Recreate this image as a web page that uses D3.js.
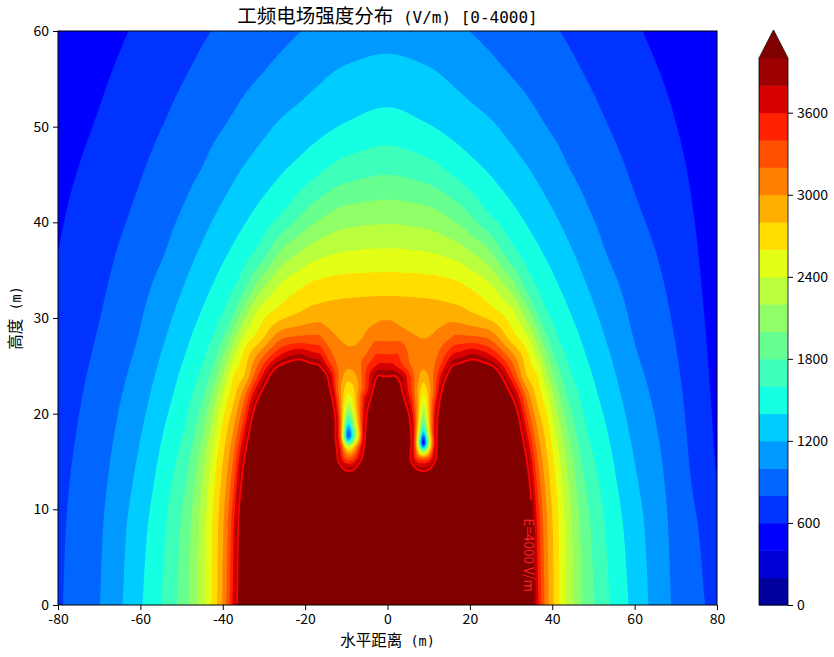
<!DOCTYPE html>
<html><head><meta charset="utf-8">
<script src="https://cdn.jsdelivr.net/npm/d3@7"></script>
<style>
html,body{margin:0;padding:0;background:#fff;}
svg{display:block;}
text{font-family:"Noto Sans CJK SC","Noto Sans",sans-serif;}
</style></head>
<body><svg id="chart" width="834" height="657"></svg>
<script>
// ---------------- DATA ----------------
const titleCJK = "工频电场强度分布";
const titleLatin = " (V/m) [0-4000]";
const xLabelCJK = "水平距离", yLabelCJK = "高度", axisUnit = " (m)";
const contourLabelText = "E=4000 V/m";

const levels = [0,200,400,600,800,1000,1200,1400,1600,1800,2000,2200,2400,2600,2800,3000,3200,3400,3600,3800,4000];
const lineLevel = 4000;
const xTicks = [-80,-60,-40,-20,0,20,40,60,80];
const yTicks = [0,10,20,30,40,50,60];
const colorbarTicks = [0,600,1200,1800,2400,3000,3600];

// field sampled on a coarse grid (V/m); x, y in metres; rows bottom -> top
const gridX = [-80,-70,-61,-54,-49,-45,-42,-39.5,-37.5,-35,-31,-25,-21.5,-18,-10,0,9,17,20.5,24,30,34,36.5,38.5,41,44,48,53,60,69,80];
const gridY = [0,8,14,19,22,24,26,28,30.5,33.5,37,41,45.5,50.5,55.5,60];
const fieldRows = [
 [774,995,1339,1649,1946,2324,2708,3120,3640,4652,5853,6898,7200,7495,7748,7722,7748,7495,7200,6898,5853,4652,3640,3120,2708,2324,1946,1649,1339,995,735],
 [761,974,1292,1591,1893,2291,2679,3058,3535,4520,5770,6855,7130,7400,7420,7320,7420,7400,7130,6855,5770,4520,3535,3058,2679,2291,1893,1591,1292,974,685],
 [741,939,1214,1500,1760,2162,2560,2903,3265,4067,5477,6705,6800,6900,6750,6670,6750,6900,6800,6705,5477,4067,3265,2903,2560,2162,1760,1500,1214,939,592],
 [717,900,1141,1397,1599,1927,2317,2680,2941,3432,4690,5707,5950,6122,5900,5680,5900,6122,5950,5707,4690,3432,2941,2680,2317,1927,1599,1397,1141,900,566],
 [701,874,1093,1331,1523,1753,2100,2472,2710,3084,3997,5134,5300,5200,5070,4760,5070,5200,5300,5134,3997,3084,2710,2472,2100,1753,1523,1331,1093,874,553],
 [689,855,1059,1286,1468,1647,1929,2272,2584,2779,3493,4537,4620,4500,4331,3971,4331,4500,4620,4537,3493,2779,2584,2272,1929,1647,1468,1286,1059,855,545],
 [676,835,1023,1240,1410,1562,1760,2061,2338,2641,3105,3720,3880,3720,3586,3440,3586,3720,3880,3720,3105,2641,2338,2061,1760,1562,1410,1240,1023,835,537],
 [663,815,991,1193,1356,1498,1621,1838,2093,2418,2713,3179,3230,3244,3173,3150,3173,3244,3230,3179,2713,2418,2093,1838,1621,1498,1356,1193,991,815,530],
 [646,792,960,1140,1289,1415,1523,1627,1788,2079,2479,2725,2810,2879,2924,2944,2924,2879,2810,2725,2479,2079,1788,1627,1523,1415,1289,1140,960,792,520],
 [625,767,922,1074,1210,1325,1414,1499,1567,1716,2080,2449,2550,2633,2692,2704,2692,2633,2550,2449,2080,1716,1567,1499,1414,1325,1210,1074,922,767,508],
 [599,737,877,998,1124,1227,1305,1370,1427,1505,1661,2050,2180,2290,2396,2424,2396,2290,2180,2050,1661,1505,1427,1370,1305,1227,1124,998,877,737,495],
 [576,701,825,938,1027,1120,1190,1248,1293,1350,1449,1620,1760,1895,2066,2108,2066,1895,1760,1620,1449,1350,1293,1248,1190,1120,1027,938,825,701,480],
 [547,660,773,872,945,1006,1068,1119,1161,1211,1285,1395,1460,1537,1695,1763,1695,1537,1460,1395,1285,1211,1161,1119,1068,1006,945,872,773,660,465],
 [511,613,719,802,867,919,958,991,1022,1064,1133,1224,1265,1307,1400,1467,1400,1307,1265,1224,1133,1064,1022,991,958,919,867,802,719,613,448],
 [470,570,666,742,796,841,874,901,923,951,995,1067,1110,1152,1232,1271,1232,1152,1110,1067,995,951,923,901,874,841,796,742,666,570,430],
 [429,529,619,689,739,779,808,830,848,870,906,959,993,1026,1090,1125,1090,1026,993,959,906,870,848,830,808,779,739,689,619,529,412]
];

// local field around the left conductor (blob at x = -9.5 m, y = 17.8 m)
const leftCondX = [-17,-15.5,-14.3,-13.2,-12.3,-11.3,-10.4,-9.5,-8.6,-7.6,-6.6,-5.6,-4.4,-2.6,-0.5];
const leftCondY = [12,13.4,14.3,15.2,16.3,17.8,19,20.3,21.6,22.8,24,25.3,26.8,28.5,30.5,32.5];
const leftCondRows = [
 [6000,6000,6000,6000,6000,6000,6000,6000,6000,6000,6000,6000,6000,6000,6000],
 [6000,6000,6000,5800,5300,4800,4500,4350,4450,4750,5200,5700,6000,6000,6000],
 [6000,6000,6000,5300,4700,4150,3900,3850,3870,4050,4500,5100,5800,6000,6000],
 [6000,6000,5200,4600,4100,3700,3450,3350,3400,3600,3900,4350,5000,6000,6000],
 [6000,5600,5000,4400,4000,3500,3000,2650,2800,3150,3600,4100,4700,5500,6000],
 [6000,5400,4800,4300,3800,3050,1800,800,1400,2300,3050,3900,4500,5300,6000],
 [5900,5300,4800,4350,3800,3100,2200,1450,1900,2600,3200,3800,4500,5200,5900],
 [5700,5100,4600,4150,3650,3050,2500,2100,2350,2800,3250,3700,4200,5000,5600],
 [5400,4800,4350,3900,3450,3000,2700,2500,2600,2900,3250,3600,3900,4600,5200],
 [5100,4550,4100,3650,3300,3000,2800,2700,2750,2900,3100,3350,3650,4250,4800],
 [4500,4200,3880,3550,3300,3100,2970,2900,2930,3000,3150,3350,3600,3950,4200],
 [4020,3700,3450,3300,3180,3100,3060,3050,3060,3100,3180,3280,3400,3550,3700],
 [3560,3350,3230,3140,3080,3040,3020,3010,3010,3020,3050,3100,3200,3350,3500],
 [3200,3100,3040,3000,2975,2955,2945,2940,2940,2945,2960,2990,3040,3100,3160],
 [2950,2920,2900,2890,2880,2875,2870,2870,2870,2875,2880,2895,2920,2950,2990],
 [6000,6000,6000,6000,6000,6000,6000,6000,6000,6000,6000,6000,6000,6000,6000]
];

// local field around the right conductor (blob at x = 8.7 m, y = 17.0 m)
const rightCondX = [0,1.8,3.4,4.6,5.6,6.5,7.4,8.0,8.7,9.4,10.2,11.1,12.0,13.1,14.4,15.8,17.3];
const rightCondY = [12,13.4,14.3,15.2,16,17,18.2,19.6,21,22.4,23.8,25.3,26.8,28.5,30.5,32.5];
const rightCondRows = [
 [6000,6000,6000,6000,6000,6000,6000,6000,6000,6000,6000,6000,6000,6000,6000,6000,6000],
 [6000,6000,6000,5700,5200,4800,4500,4400,4350,4400,4550,4900,5400,6000,6000,6000,6000],
 [6000,6000,5800,5100,4500,4100,3900,3860,3850,3870,3950,4200,4700,5300,6000,6000,6000],
 [6000,6000,5000,4400,4000,3650,3420,3360,3350,3380,3500,3750,4150,4700,5300,6000,6000],
 [6000,5600,4900,4350,4000,3500,2900,2450,2200,2450,2950,3550,4050,4600,5200,5800,6000],
 [6000,5700,5200,4700,4150,3450,2400,1400,500,1300,2400,3300,4050,4550,5100,5600,6000],
 [5900,5500,5000,4500,4050,3500,2700,2050,1400,1950,2750,3450,4000,4500,5000,5500,5900],
 [5700,5250,4750,4300,3900,3450,2900,2450,2050,2400,2900,3450,3950,4400,4900,5400,5800],
 [5400,4900,4400,3950,3650,3300,2950,2650,2400,2600,2950,3350,3750,4250,4750,5250,5700],
 [5000,4500,4050,3700,3450,3200,2950,2780,2650,2750,2950,3200,3500,3950,4450,4950,5400],
 [4300,4050,3850,3600,3400,3200,3050,2950,2880,2930,3030,3200,3400,3700,4050,4500,4900],
 [3700,3550,3400,3280,3180,3110,3070,3055,3050,3060,3090,3150,3250,3400,3620,3880,4020],
 [3500,3400,3300,3200,3130,3090,3060,3045,3040,3045,3060,3090,3140,3220,3330,3450,3560],
 [3150,3090,3050,3020,3000,2985,2975,2970,2970,2970,2980,2995,3020,3050,3090,3140,3200],
 [2990,2960,2930,2910,2895,2885,2880,2880,2880,2880,2885,2895,2910,2930,2950,2970,2990],
 [6000,6000,6000,6000,6000,6000,6000,6000,6000,6000,6000,6000,6000,6000,6000,6000,6000]
];
const labelPos = {x: 34.6, y: 5.2};

// ---------------- RENDER ----------------
const W = 834, H = 657;
const M = {left:58, right:717, top:31, bottom:605};
const svg = d3.select("#chart");
svg.append("rect").attr("width",W).attr("height",H).attr("fill","#fff");

const x = d3.scaleLinear().domain([-80,80]).range([M.left,M.right]);
const y = d3.scaleLinear().domain([0,60]).range([M.bottom,M.top]);

// jet colormap
const jr = d3.scaleLinear().domain([0,0.35,0.66,0.89,1]).range([0,0,1,1,0.5]).clamp(true);
const jg = d3.scaleLinear().domain([0,0.125,0.375,0.64,0.91,1]).range([0,0,1,1,0,0]).clamp(true);
const jb = d3.scaleLinear().domain([0,0.11,0.34,0.65,1]).range([0.5,1,1,0,0]).clamp(true);
const jet = t => d3.rgb(Math.round(255*jr(t)), Math.round(255*jg(t)), Math.round(255*jb(t))).formatHex();
const vmax = levels[levels.length-1];
const bandColors = levels.slice(0,-1).map((v,i)=> jet(((v+levels[i+1])/2)/vmax));
const overColor = jet(1);
const colorFor = k => k < bandColors.length ? bandColors[k] : overColor;

// monotone cubic (PCHIP) interpolation
function pchip(xs, ys){
  const n = xs.length, h = [], d = [], m = new Array(n);
  for (let k=0;k<n-1;k++){ h[k]=xs[k+1]-xs[k]; d[k]=(ys[k+1]-ys[k])/h[k]; }
  m[0]=d[0]; m[n-1]=d[n-2];
  for (let k=1;k<n-1;k++){
    if (d[k-1]*d[k] <= 0) m[k]=0;
    else { const w1=2*h[k]+h[k-1], w2=h[k]+2*h[k-1]; m[k]=(w1+w2)/(w1/d[k-1]+w2/d[k]); }
  }
  return function(v){
    let k = d3.bisectRight(xs, v) - 1; k = Math.max(0, Math.min(n-2, k));
    const t=(v-xs[k])/h[k], t2=t*t, t3=t2*t;
    return (2*t3-3*t2+1)*ys[k] + (t3-2*t2+t)*h[k]*m[k] + (-2*t3+3*t2)*ys[k+1] + (t3-t2)*h[k]*m[k+1];
  };
}
function sampleGrid(gx, gy, rows, sx, sy){
  const rowF = rows.map(r => pchip(gx, r));
  const atX = rowF.map(f => sx.map(v => f(v)));
  const out = sy.map(()=> new Float64Array(sx.length));
  for (let i=0;i<sx.length;i++){
    const f = pchip(gy, atX.map(r => r[i]));
    for (let j=0;j<sy.length;j++) out[j][i] = f(sy[j]);
  }
  return out;
}

const nx = Math.round(M.right-M.left), ny = Math.round(M.bottom-M.top);
const gxToX = gx => -80 + gx*160/nx;
const gyToY = gy => 60 - gy*60/ny;
const sxs = d3.range(nx).map(i => gxToX(i+0.5));
const sys = d3.range(ny).map(j => gyToY(j+0.5));

const base = sampleGrid(gridX, gridY, fieldRows, sxs, sys);
const vals = new Float64Array(nx*ny);
for (let j=0;j<ny;j++) for (let i=0;i<nx;i++) vals[j*nx+i] = base[j][i];

function applyLocal(fx, fy, rows){
  const is = [], js = [];
  sxs.forEach((v,i)=>{ if (v>=fx[0] && v<=fx[fx.length-1]) is.push(i); });
  sys.forEach((v,j)=>{ if (v>=fy[0] && v<=fy[fy.length-1]) js.push(j); });
  const sub = sampleGrid(fx, fy, rows, is.map(i=>sxs[i]), js.map(j=>sys[j]));
  js.forEach((j,jj)=> is.forEach((i,ii)=>{ const k=j*nx+i; vals[k] = Math.min(vals[k], sub[jj][ii]); }));
}
applyLocal(leftCondX, leftCondY, leftCondRows);
applyLocal(rightCondX, rightCondY, rightCondRows);

const contours = d3.contours().size([nx,ny]).thresholds(levels)(vals);
const proj = d3.geoTransform({point: function(px,py){ this.stream.point(x(gxToX(px)), y(gyToY(py))); }});
const path = d3.geoPath(proj);

const defs = svg.append("defs");
defs.append("clipPath").attr("id","plotClip").append("rect")
  .attr("x",M.left).attr("y",M.top).attr("width",M.right-M.left).attr("height",M.bottom-M.top);
defs.append("clipPath").attr("id","lineClip").append("rect")
  .attr("x",M.left).attr("y",M.top).attr("width",M.right-M.left).attr("height",M.bottom-M.top-1.6);
const mask = defs.append("mask").attr("id","lblMask");
mask.append("rect").attr("x",0).attr("y",0).attr("width",W).attr("height",H).attr("fill","#fff");
mask.append("rect").attr("x",x(labelPos.x)-9).attr("y",y(11)).attr("width",18).attr("height",M.bottom-y(11)+5).attr("fill","#000");

const gPlot = svg.append("g").attr("clip-path","url(#plotClip)");
contours.forEach((c,k)=>{
  gPlot.append("path").attr("d", path(c)).attr("fill", colorFor(k)).attr("stroke","none");
});
// 4000 V/m contour line
const lineContour = contours[levels.indexOf(lineLevel)];
svg.append("g").attr("clip-path","url(#lineClip)").append("g").attr("mask","url(#lblMask)")
  .append("path").attr("d", path(lineContour)).attr("fill","none")
  .attr("stroke","#ff0000").attr("stroke-width",2).attr("stroke-linejoin","round");
svg.append("text").attr("transform",`translate(${x(labelPos.x)},${y(labelPos.y)}) rotate(90)`)
  .attr("text-anchor","middle").attr("dominant-baseline","central")
  .attr("fill","#ff2020").attr("font-size",13.5).attr("font-family","DejaVu Sans Condensed, DejaVu Sans, sans-serif")
  .text(contourLabelText);

// frame
svg.append("rect").attr("x",M.left).attr("y",M.top).attr("width",M.right-M.left).attr("height",M.bottom-M.top)
  .attr("fill","none").attr("stroke","#000").attr("stroke-width",1);

// axes
const xAxis = svg.append("g").attr("transform",`translate(0,${M.bottom})`)
  .call(d3.axisBottom(x).tickValues(xTicks).tickSize(5).tickSizeOuter(0).tickPadding(4).tickFormat(d=>String(d)));
const yAxis = svg.append("g").attr("transform",`translate(${M.left},0)`)
  .call(d3.axisLeft(y).tickValues(yTicks).tickSize(5).tickSizeOuter(0).tickPadding(4).tickFormat(d=>String(d)));
[xAxis,yAxis].forEach(a=>{
  a.select(".domain").remove();
  a.selectAll("text").attr("font-size",14).attr("fill","#000").attr("font-family","Noto Sans CJK SC, sans-serif");
  a.selectAll("line").attr("stroke","#000");
});

function mixedText(sel, cjk, latin, cjkSize, latinSize){
  sel.append("tspan").attr("font-size",cjkSize).attr("font-family","Noto Sans CJK SC, sans-serif").text(cjk);
  sel.append("tspan").attr("font-size",latinSize).attr("font-family","DejaVu Sans Mono, monospace").text(latin);
}
const tTitle = svg.append("text").attr("x",(M.left+M.right)/2).attr("y",23).attr("text-anchor","middle").attr("fill","#000");
mixedText(tTitle, titleCJK, titleLatin, 19.5, 16);
const tX = svg.append("text").attr("x",(M.left+M.right)/2).attr("y",646).attr("text-anchor","middle").attr("fill","#000");
mixedText(tX, xLabelCJK, axisUnit, 15.5, 13.5);
const tY = svg.append("text").attr("transform",`translate(21,${(M.top+M.bottom)/2}) rotate(-90)`).attr("text-anchor","middle").attr("fill","#000");
mixedText(tY, yLabelCJK, axisUnit, 15.5, 13.5);

// colorbar
const cb = {x0:759, x1:788, top:58, tip:30};
const cy = d3.scaleLinear().domain([0,vmax]).range([M.bottom, cb.top]);
const gCb = svg.append("g");
levels.slice(0,-1).forEach((v,i)=>{
  gCb.append("rect").attr("x",cb.x0).attr("width",cb.x1-cb.x0)
    .attr("y",cy(levels[i+1])).attr("height",cy(v)-cy(levels[i+1])+0.5).attr("fill",bandColors[i]);
});
gCb.append("path").attr("d",`M${cb.x0},${cb.top+0.5}L${(cb.x0+cb.x1)/2},${cb.tip}L${cb.x1},${cb.top+0.5}Z`).attr("fill",overColor);
gCb.append("path").attr("d",`M${cb.x0},${M.bottom}L${cb.x0},${cb.top}L${(cb.x0+cb.x1)/2},${cb.tip}L${cb.x1},${cb.top}L${cb.x1},${M.bottom}Z`)
  .attr("fill","none").attr("stroke","#000").attr("stroke-width",0.8);
const cAxis = svg.append("g").attr("transform",`translate(${cb.x1},0)`)
  .call(d3.axisRight(cy).tickValues(colorbarTicks).tickSize(5).tickSizeOuter(0).tickPadding(4).tickFormat(d=>String(d)));
cAxis.select(".domain").remove();
cAxis.selectAll("text").attr("font-size",14).attr("fill","#000").attr("font-family","Noto Sans CJK SC, sans-serif");
cAxis.selectAll("line").attr("stroke","#000");
</script></body></html>
